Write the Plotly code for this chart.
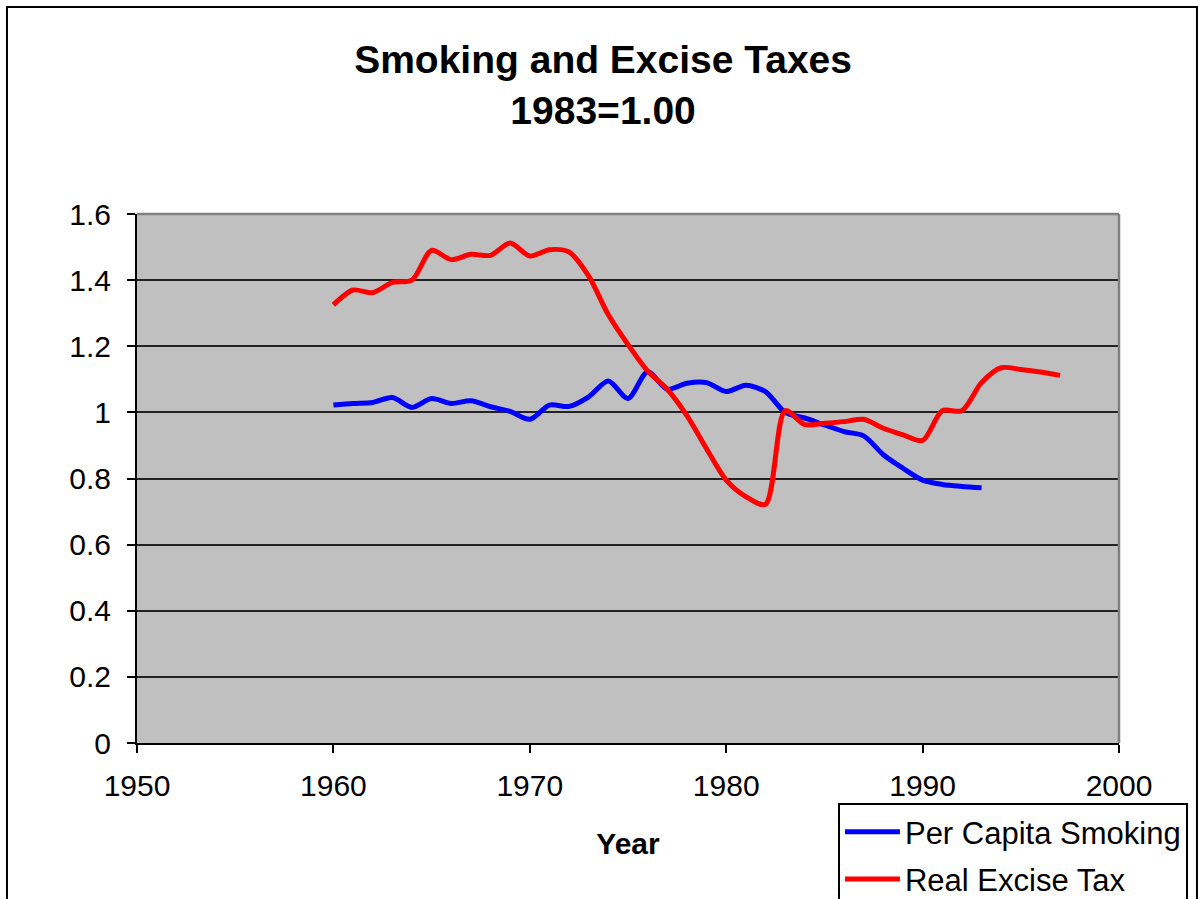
import plotly.graph_objects as go

years_smoking = list(range(1960, 1994))
per_capita_smoking = [1.022, 1.027, 1.030, 1.045, 1.015, 1.042, 1.027, 1.035, 1.017, 1.003,
                      0.979, 1.022, 1.018, 1.047, 1.095, 1.042, 1.123, 1.070, 1.088, 1.090,
                      1.063, 1.082, 1.063, 1.000, 0.983, 0.962, 0.942, 0.929, 0.872, 0.831,
                      0.795, 0.782, 0.776, 0.772]

years_tax = list(range(1960, 1998))
real_excise_tax = [1.325, 1.370, 1.362, 1.393, 1.400, 1.490, 1.462, 1.478, 1.475, 1.512,
                   1.473, 1.492, 1.485, 1.412, 1.295, 1.205, 1.125, 1.070, 0.990, 0.890,
                   0.795, 0.745, 0.722, 1.005, 0.963, 0.967, 0.972, 0.979, 0.952, 0.932,
                   0.915, 1.005, 1.005, 1.090, 1.135, 1.130, 1.122, 1.112]

x_ticks = [1950, 1960, 1970, 1980, 1990, 2000]
y_ticks = [0, 0.2, 0.4, 0.6, 0.8, 1, 1.2, 1.4, 1.6]

FONT = "Liberation Sans, Arial, sans-serif"

fig = go.Figure()
fig.add_trace(go.Scatter(x=years_smoking, y=per_capita_smoking, mode="lines",
                         name="Per Capita Smoking", legendgroup="a",
                         line=dict(color="#0000FF", width=5, shape="spline", smoothing=0.8)))
fig.add_trace(go.Scatter(x=years_tax, y=real_excise_tax, mode="lines",
                         name="Real Excise Tax", legendgroup="b",
                         line=dict(color="#FF0000", width=5, shape="spline", smoothing=0.8)))

fig.update_layout(
    width=1199, height=899,
    margin=dict(l=137, r=80, t=214, b=156, autoexpand=False),
    paper_bgcolor="white",
    plot_bgcolor="#C0C0C0",
    font=dict(family=FONT, color="black", size=30),
    title=dict(text="<b>Smoking and Excise Taxes<br>1983=1.00</b>",
               x=0.503, xanchor="center", xref="container",
               y=0.919, yanchor="top", yref="container",
               font=dict(family=FONT, size=39, color="black")),
    showlegend=True,
    legend=dict(x=0.7138, y=-0.1135, xref="paper", yref="paper",
                xanchor="left", yanchor="top",
                bgcolor="white", bordercolor="black", borderwidth=2,
                font=dict(family=FONT, size=31, color="black"),
                tracegroupgap=4, itemwidth=55),
    xaxis=dict(range=[1950, 2000], tickvals=x_ticks, showgrid=False,
               zeroline=False, showline=True, linecolor="black", linewidth=2,
               ticks="outside", ticklen=8, tickcolor="black", tickwidth=1.5,
               ticklabelstandoff=7,
               tickfont=dict(family=FONT, size=30, color="black"),
               title=dict(text="<b>Year</b>", standoff=32,
                          font=dict(family=FONT, size=30, color="black"))),
    yaxis=dict(range=[0, 1.6], tickvals=y_ticks, showgrid=True,
               gridcolor="#222222", gridwidth=1.5,
               zeroline=False, showline=True, linecolor="black", linewidth=2,
               ticks="outside", ticklen=8, tickcolor="black", tickwidth=1.5,
               ticklabelstandoff=10,
               tickfont=dict(family=FONT, size=30, color="black")),
)

# plot area top/right border (gray)
fig.add_shape(type="line", xref="x domain", yref="y domain", x0=0, x1=1, y0=1, y1=1,
              line=dict(color="#808080", width=2.5), layer="above")
fig.add_shape(type="line", xref="x domain", yref="y domain", x0=1, x1=1, y0=0, y1=1,
              line=dict(color="#808080", width=2.5), layer="above")
# outer chart frame
fig.add_shape(type="rect", xref="paper", yref="paper",
              x0=-0.1324, x1=1.0794, y0=-0.35, y1=1.3913,
              line=dict(color="black", width=2), layer="below")

fig.write_html("out.html", config={"displayModeBar": False},
               post_script="document.body.style.margin='0px';")
